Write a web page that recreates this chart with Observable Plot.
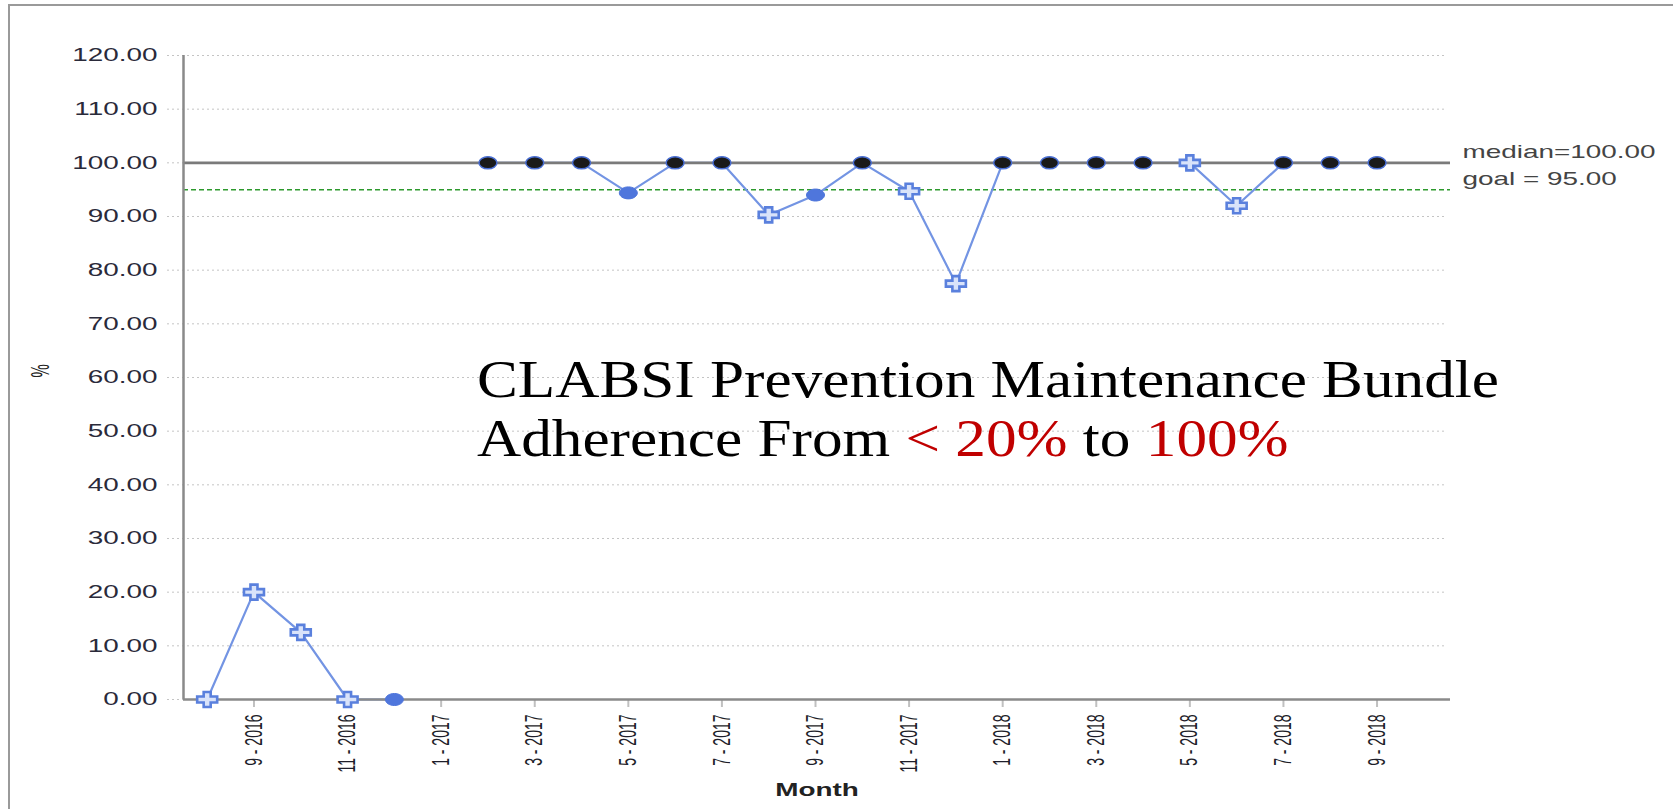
<!DOCTYPE html>
<html>
<head>
<meta charset="utf-8">
<script src="https://cdn.jsdelivr.net/npm/d3@7"></script>
<script src="https://cdn.jsdelivr.net/npm/@observablehq/plot@0.6"></script>
<style>
  html, body { margin: 0; padding: 0; background: #fff; overflow: hidden; }
  #wrap { position: relative; width: 1673px; height: 809px; }
  #border { position: absolute; left: 8px; top: 4px; right: 0; bottom: 0;
            border-left: 2px solid #9a9a9a; border-top: 2px solid #9a9a9a; }
  #chart { position: absolute; left: 0; top: 0; }
  .tl { position: absolute; left: 477px; font-family: "Liberation Serif", "Times New Roman", serif;
        font-size: 53px; line-height: 59px; color: #000; white-space: nowrap; transform-origin: 0 0; }
  #l1 { top: 350px; }
  #l2 { top: 409px; }
  .red { color: #c00000; }
</style>
</head>
<body>
<div id="wrap">
  <div id="border"></div>
  <div id="chart"></div>
  <div class="tl" id="l1"><span id="l1s">CLABSI Prevention Maintenance Bundle</span></div>
  <div class="tl" id="l2"><span>Adherence From <span class="red">&lt; 20%</span> to <span class="red">100%</span></span></div>
</div>
<script>
// ---- data ----
const months = ["8 - 2016","9 - 2016","10 - 2016","11 - 2016","12 - 2016","1 - 2017","2 - 2017","3 - 2017","4 - 2017","5 - 2017","6 - 2017","7 - 2017","8 - 2017","9 - 2017","10 - 2017","11 - 2017","12 - 2017","1 - 2018","2 - 2018","3 - 2018","4 - 2018","5 - 2018","6 - 2018","7 - 2018","8 - 2018","9 - 2018"];
const values = [0, 20, 12.5, 0, 0, null, 100, 100, 100, 94.4, 100, 100, 90.3, 94.0, 100, 94.7, 77.5, 100, 100, 100, 100, 100, 92.0, 100, 100, 100];
const markers = ["cross","cross","cross","cross","dot",null,"dark","dark","dark","dot","dark","dark","cross","dot","dark","cross","cross","dark","dark","dark","dark","cross","cross","dark","dark","dark"];
const median = 100;
const goal = 95;
const yTicks = [0, 10, 20, 30, 40, 50, 60, 70, 80, 90, 100, 110, 120];
const xTickIndex = [1, 3, 5, 7, 9, 11, 13, 15, 17, 19, 21, 23, 25];

const data = months.map((m, i) => ({i, m, v: values[i], k: markers[i]}));

// ---- custom symbols ----
const ellipse = {
  draw(ctx) {
    const rx = 9, ry = 6, k = 0.5523;
    ctx.moveTo(rx, 0);
    ctx.bezierCurveTo(rx, k * ry, k * rx, ry, 0, ry);
    ctx.bezierCurveTo(-k * rx, ry, -rx, k * ry, -rx, 0);
    ctx.bezierCurveTo(-rx, -k * ry, -k * rx, -ry, 0, -ry);
    ctx.bezierCurveTo(k * rx, -ry, rx, -k * ry, rx, 0);
    ctx.closePath();
  }
};
const cross = {
  draw(ctx) {
    const w = 10, h = 7.5, a = 3.5, b = 3;
    ctx.moveTo(-a, -h); ctx.lineTo(a, -h); ctx.lineTo(a, -b); ctx.lineTo(w, -b);
    ctx.lineTo(w, b); ctx.lineTo(a, b); ctx.lineTo(a, h); ctx.lineTo(-a, h);
    ctx.lineTo(-a, b); ctx.lineTo(-w, b); ctx.lineTo(-w, -b); ctx.lineTo(-a, -b);
    ctx.closePath();
  }
};

const xDomain = [-0.506, 26.57];

const chart = Plot.plot({
  width: 1673,
  height: 809,
  marginLeft: 183,
  marginRight: 223,
  marginTop: 55,
  marginBottom: 110,
  style: {fontFamily: "'Liberation Sans', Arial, sans-serif", background: "transparent", overflow: "visible"},
  x: {type: "linear", domain: xDomain, axis: null},
  y: {domain: [0, 120], axis: null},
  marks: [
    Plot.gridY(yTicks, {stroke: "#c4c4c4", strokeOpacity: 1, strokeWidth: 1, strokeDasharray: "2,3", insetLeft: -16, insetRight: 6}),
    Plot.axisY(yTicks, {tickSize: 0, tickPadding: 26, tickFormat: d => d.toFixed(2), fontSize: 18, fill: "#2a2a3a", label: null}),
    Plot.axisX(xTickIndex, {tickFormat: i => months[i], tickRotate: -90, tickSize: 8, tickPadding: 7,
                            stroke: "#c0c0c0", strokeWidth: 2, fill: "#1e1e2a", fontSize: 14, label: null}),
    Plot.ruleY([goal], {stroke: "#2e9a2e", strokeWidth: 1.5, strokeDasharray: "5,3"}),
    Plot.line(data, {x: "i", y: "v", stroke: "#7394e3", strokeWidth: 2.2}),
    Plot.ruleY([median], {stroke: "#7a7a7a", strokeWidth: 2.8}),
    Plot.ruleY([0], {stroke: "#8a8a8a", strokeWidth: 2.5}),
    Plot.ruleX([xDomain[0]], {stroke: "#8a8a8a", strokeWidth: 2.5}),
    Plot.dot(data.filter(d => d.k === "dot"), {x: "i", y: "v", symbol: ellipse, fill: "#4f76dc", stroke: "#4f76dc", strokeWidth: 1}),
    Plot.dot(data.filter(d => d.k === "dark"), {x: "i", y: "v", symbol: ellipse, fill: "#1a1a1a", stroke: "#4a6fd4", strokeWidth: 1.5}),
    Plot.dot(data.filter(d => d.k === "cross"), {x: "i", y: "v", symbol: cross, fill: "#d9e3fa", stroke: "#5a80dd", strokeWidth: 2.6}),
    Plot.text([median], {y: d => d, frameAnchor: "right", dx: 12, dy: -11, textAnchor: "start",
                         text: d => `median=${d.toFixed(2)}`, fontSize: 18, fill: "#444"}),
    Plot.text([goal], {y: d => d, frameAnchor: "right", dx: 12, dy: -10, textAnchor: "start",
                       text: d => `goal = ${d.toFixed(2)}`, fontSize: 18, fill: "#444"}),
    Plot.text(["%"], {frameAnchor: "left", dx: -143, rotate: -90, text: d => d, fontSize: 15, fill: "#222"}),
    Plot.text(["Month"], {frameAnchor: "bottom", dy: 91, lineAnchor: "middle", text: d => d, fontSize: 18, fontWeight: "bold", fill: "#222"})
  ]
});

document.getElementById("chart").appendChild(chart);

// stretch text horizontally like the reference rendering
chart.querySelectorAll("text").forEach(el => {
  let t = el.getAttribute("transform") || "";
  const x = el.getAttribute("x"), y = el.getAttribute("y");
  if (x != null && x !== "" && !isNaN(+x)) { t += ` translate(${x},0)`; el.removeAttribute("x"); }
  if (y != null && y !== "" && !isNaN(+y)) { t += ` translate(0,${y})`; el.removeAttribute("y"); }
  if (/rotate/.test(t)) t += " scale(1,1.7)";
  else t += " scale(1.55,1)";
  el.setAttribute("transform", t.trim());
});

// fit title width
const w1 = document.getElementById("l1s").getBoundingClientRect().width;
const k = 1022 / w1;
document.getElementById("l1").style.transform = `scaleX(${k})`;
document.getElementById("l2").style.transform = `scaleX(${k})`;
</script>
</body>
</html>
